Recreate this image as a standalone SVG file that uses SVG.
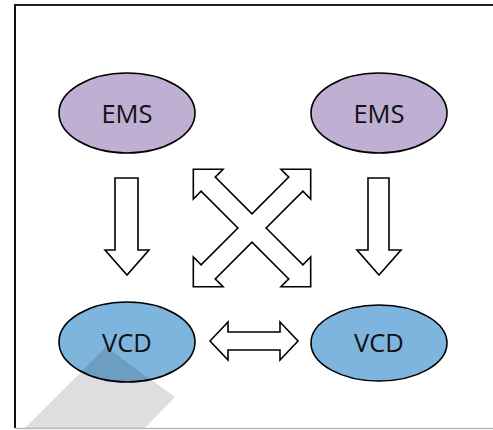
<svg xmlns="http://www.w3.org/2000/svg" width="493" height="430" viewBox="0 0 493 430">
<style>
.ems{fill:#bfb0d3;stroke:#000;stroke-width:1.6}
.vcd{fill:#7eb5de;stroke:#000;stroke-width:1.6}
.lbl{font-family:"Open Sans","Liberation Sans",sans-serif;font-size:25.5px;fill:#111;text-anchor:middle}
.arr{fill:#fff;stroke:#000;stroke-width:1.6;stroke-linejoin:miter}
</style>
<rect x="0" y="0" width="493" height="430" fill="#fff"/>
<g id="frame" fill="none">
<line x1="14" y1="5" x2="493" y2="5" stroke="#222" stroke-width="2"/>
<line x1="15" y1="4" x2="15" y2="428" stroke="#111" stroke-width="2"/>
<line x1="15" y1="428.5" x2="493" y2="428.5" stroke="#bbb" stroke-width="1.5"/>
</g>
<g id="ems-left"><ellipse class="ems" cx="127" cy="113" rx="68" ry="40"/><text class="lbl" x="127" y="122.5">EMS</text></g>
<g id="ems-right"><ellipse class="ems" cx="379" cy="113" rx="68" ry="40"/><text class="lbl" x="379" y="122.5">EMS</text></g>
<g id="vcd-left"><ellipse class="vcd" cx="127" cy="342" rx="68" ry="40"/><text class="lbl" x="127" y="351.5">VCD</text></g>
<g id="vcd-right"><ellipse class="vcd" cx="379" cy="343" rx="68" ry="38"/><text class="lbl" x="379" y="351.5">VCD</text></g>
<g id="connectors">
<polygon class="arr" points="115,178 138,178 138,250 149,250 127,275 105,250 115,250"/>
<polygon class="arr" points="368,178 389,178 389,250 401,250 379,275 357,250 368,250"/>
<polygon class="arr" transform="translate(252,228) rotate(45)" points="10,-10 62,-10 62,-21 83,0 62,21 62,10 10,10 10,62 21,62 0,83 -21,62 -10,62 -10,10 -62,10 -62,21 -83,0 -62,-21 -62,-10 -10,-10 -10,-62 -21,-62 0,-83 21,-62 10,-62"/>
<polygon class="arr" points="210,341 228,322 228,332 280,332 280,322 298,341 280,360 280,350 228,350 228,360"/>
</g>
<polygon id="watermark" points="25,428 106,347 175,397 145,428" fill="#000" fill-opacity="0.13"/>
</svg>
